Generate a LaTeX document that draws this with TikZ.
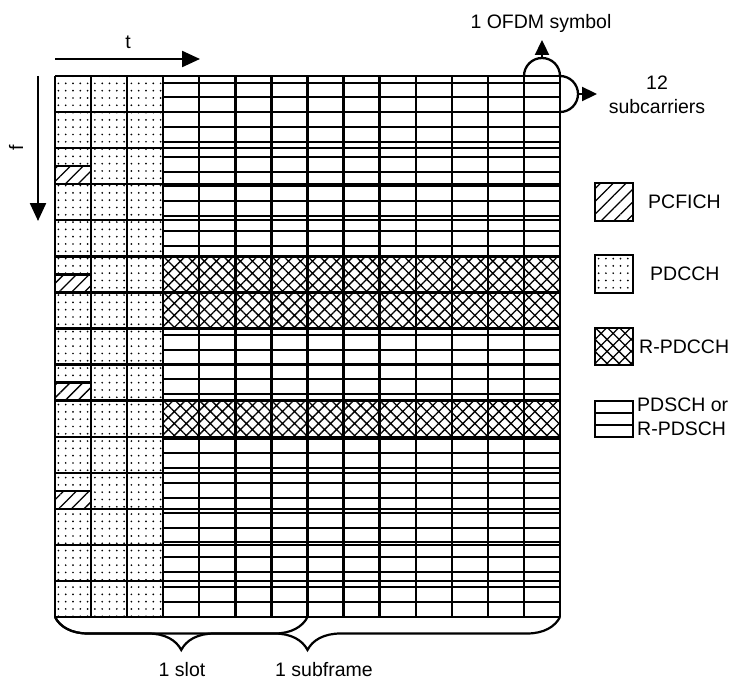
\documentclass[tikz,border=0pt]{standalone}
\usepackage{fontspec}
\setmainfont{Liberation Sans}
\usetikzlibrary{patterns.meta,arrows.meta,decorations.pathreplacing}
\begin{document}
\begin{tikzpicture}[x=1pt,y=-1pt,
  gridline/.style={line width=2.3pt},
  subline/.style={line width=2pt},
  lbl/.style={font=\fontsize{19.5}{22}\selectfont, inner sep=0pt},
  dotfill/.style={pattern={Dots[distance=7.3pt,radius=0.95pt]}},
  hatchfill/.style={pattern={Lines[angle=45,distance=9pt,line width=1.3pt]}},
  crossfill/.style={pattern={Hatch[angle=45,distance=8.5pt,line width=1.3pt]}},
  bigarrow/.style={line width=2.3pt,-{Triangle[length=18pt,width=16pt]}},
  smallarrow/.style={line width=2.3pt,-{Triangle[length=15pt,width=14pt]}},
  bracestyle/.style={line width=2.2pt, decorate, decoration={brace, mirror, amplitude=33pt}}
]
\useasboundingbox (0,0) rectangle (736,682);
\fill[white] (0,0) rectangle (736,682);
\def\cw{36.07}
% PDCCH control region
\fill[dotfill] (55,76) rectangle (163.2,617);
% PCFICH halves
\foreach \r in {2,5,8,11} {
  \fill[white] (55,{76+(\r+0.5)*\cw}) rectangle (91.07,{76+(\r+1)*\cw});
  \fill[hatchfill] (55,{76+(\r+0.5)*\cw}) rectangle (91.07,{76+(\r+1)*\cw});
  \draw[gridline] (55,{76+(\r+0.5)*\cw}) -- (91.07,{76+(\r+0.5)*\cw});
}
% data sub-lines
\foreach \k in {1,...,36} {
  \draw[subline] (163.2,{616.5-14.83*\k}) -- (560,{616.5-14.83*\k});
}
% R-PDCCH rows
\foreach \r in {5,6,9} {
  \fill[white] (163.2,{76+\r*\cw}) rectangle (560,{76+(\r+1)*\cw});
  \fill[crossfill] (163.2,{76+\r*\cw}) rectangle (560,{76+(\r+1)*\cw});
}
% grid
\foreach \i in {0,...,14} {
  \draw[gridline] ({55+\i*\cw},76) -- ({55+\i*\cw},617);
}
\foreach \r in {0,...,15} {
  \draw[gridline] (55,{76+\r*\cw}) -- (560,{76+\r*\cw});
}
% t and f arrows
\coordinate (tstart) at (55,59);
\coordinate (tend) at (200,59);
\draw[bigarrow] (tstart) -- (tend);
\node[lbl] (tlabel) at (128,42) {t};
\coordinate (fstart) at (38,76);
\coordinate (fend) at (38,221);
\draw[bigarrow] (fstart) -- (fend);
\node[lbl, rotate=90] (flabel) at (16,148) {f};
% OFDM symbol / subcarriers arcs
\draw[gridline] (524,76) arc[start angle=180, end angle=360, radius=18];
\coordinate (ofdmtop) at (542,58);
\coordinate (ofdmtip) at (542,40);
\draw[smallarrow] (ofdmtop) -- (ofdmtip);
\node[lbl] (ofdm) at (541,23) {1 OFDM symbol};
\draw[gridline] (560,76) arc[start angle=-90, end angle=90, radius=18];
\coordinate (subright) at (578,94);
\coordinate (subtip) at (597,94);
\draw[smallarrow] (subright) -- (subtip);
\node[lbl] (sub12) at (657,83) {12};
\node[lbl] (subc) at (657,107) {subcarriers};
% legend
\fill[white] (595,183) rectangle (633,221);
\fill[hatchfill] (595,183) rectangle (633,221);
\draw[gridline] (595,183) rectangle (633,221);
\node[lbl, anchor=west] (lpcfich) at (648,202) {PCFICH};
\fill[white] (595,255) rectangle (633,293);
\fill[dotfill] (595,255) rectangle (633,293);
\draw[gridline] (595,255) rectangle (633,293);
\node[lbl, anchor=west] (lpdcch) at (650,274) {PDCCH};
\fill[white] (595,328) rectangle (633,365);
\fill[crossfill] (595,328) rectangle (633,365);
\draw[gridline] (595,328) rectangle (633,365);
\node[lbl, anchor=west] (lrpdcch) at (639,347) {R-PDCCH};
\draw[gridline] (595,401) rectangle (633,437);
\draw[gridline] (595,413) -- (633,413);
\draw[gridline] (595,425) -- (633,425);
\node[lbl, anchor=west] (lpdsch1) at (637,405) {PDSCH or};
\node[lbl, anchor=west] (lpdsch2) at (637,429) {R-PDSCH};
% braces
\coordinate (gl) at (55,617);
\coordinate (gm) at (307.5,617);
\coordinate (gr) at (560,617);
\draw[bracestyle] (gl) -- (gm);
\draw[bracestyle] (gl) -- (gr);
\node[lbl] (slot) at (182,670) {1 slot};
\node[lbl] (subframe) at (324,670) {1 subframe};
\end{tikzpicture}
\end{document}
